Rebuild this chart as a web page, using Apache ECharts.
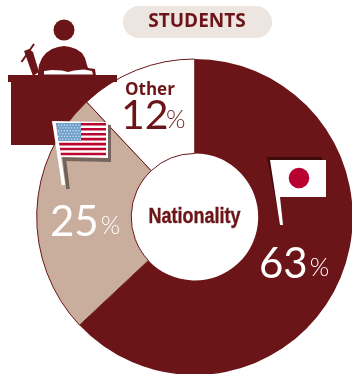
<!DOCTYPE html>
<html><head><meta charset="utf-8">
<style>html,body{margin:0;padding:0;background:#fff}#c{width:352px;height:374px}</style>
<script src="https://cdn.jsdelivr.net/npm/echarts@6/dist/echarts.min.js"></script>
</head><body><div id="c"></div>
<script>
const categories = ['Japan', 'USA', 'Other'];
const values = [63, 25, 12];
const title = 'STUDENTS';
const centerLabel = 'Nationality';

const DARK = '#6c1519', TAN = '#c9ae9e';
const chart = echarts.init(document.getElementById('c'), null, {renderer:'canvas'});
const labelPos = [{x:259,y:264},{x:50,y:222},{x:121,y:107}];
const colors = [DARK, TAN, '#ffffff'];
const numFont = 'Lato';

function usFlag(){
  const els = [];
  els.push({type:'line',shape:{x1:62,y1:140,x2:68,y2:189},style:{stroke:'#6f6058',lineWidth:3.5}});
  els.push({type:'polygon',shape:{points:[[60,125],[111,125],[111,162],[64,161]]},style:{fill:'#75655c'}});
  els.push({type:'polygon',shape:{points:[[52,121],[108,122],[108,158],[60,157]]},style:{fill:'#fff'}});
  els.push({type:'line',shape:{x1:54,y1:122,x2:63.5,y2:185},style:{stroke:'#fff',lineWidth:3.5}});
  for(let i=0;i<7;i++){
    const y=123+i*4.95;
    els.push({type:'polygon',shape:{points:[[56+i*0.75,y],[106,y],[106,y+2.6],[56.4+i*0.75,y+2.6]]},style:{fill:'#b9072f'}});
  }
  els.push({type:'polygon',shape:{points:[[56,123],[81,123],[81,141],[58.5,141]]},style:{fill:'#6f9fca'}});
  for(let r=0;r<6;r++)for(let c=0;c<8;c++){
    els.push({type:'rect',shape:{x:58+c*2.9+(r%2)*1.4,y:124.5+r*2.8,width:1.3,height:1.3},style:{fill:'#cfe0ee'}});
  }
  return els.map((e,i)=>Object.assign(e,{z:20,z2:i}));
}
function jpFlag(){
  return [
    {type:'polygon',shape:{points:[[267,157],[322,157],[322,160],[271,160],[280,213],[278,213]]},style:{fill:'#3d0a0d'}},
    {type:'polygon',shape:{points:[[270,160],[326,160],[326,197],[280,197],[283,225],[280,225]]},style:{fill:'#fff'}},
    {type:'circle',shape:{cx:299,cy:178,r:10.3},style:{fill:'#b80031'}}
  ].map((e,i)=>Object.assign(e,{z:20,z2:i}));
}
function deskIcon(){
  return [
    {type:'circle',shape:{cx:64,cy:30,r:10.5},style:{fill:DARK}},
    {type:'polygon',shape:{points:[[38,72],[39,65],[42,58],[46,53],[52,49],[58,47],[64,46],[70,47],[76,49],[82,53],[85,58],[87,65],[88,68],[95,69],[96,76],[38,76]]},style:{fill:DARK}},
    {type:'polygon',shape:{points:[[44,74.5],[44,71],[52,70],[62,70.5],[68,72],[74,70.5],[84,69.5],[92,71],[93,74.5]]},style:{fill:'#fff'}},
    {type:'line',shape:{x1:21.5,y1:62,x2:34,y2:44},style:{stroke:DARK,lineWidth:2}},
    {type:'polygon',shape:{points:[[24,51],[29,49],[33,52],[39,72],[33,76]]},style:{fill:DARK}},
    {type:'rect',shape:{x:8,y:75,width:109,height:7},style:{fill:DARK}},
    {type:'polygon',shape:{points:[[11,80],[116,80],[100.7,90],[85.5,103],[74,115],[62.7,130],[54,145],[11,145]]},style:{fill:DARK}}
  ].map((e,i)=>Object.assign(e,{z:8,z2:i}));
}
chart.setOption({
  animation:false,
  backgroundColor:'#fff',
  series:[{
    type:'pie',
    center:[194.7,217],
    radius:[63.5,158],
    startAngle:90,
    clockwise:true,
    silent:true,
    z:5,
    avoidLabelOverlap:false,
    emphasis:{disabled:true},
    data:categories.map((n,i)=>({name:n,value:values[i],
      itemStyle:{color:colors[i],borderColor:DARK,borderWidth:i===0?0:1}})),
    labelLine:{show:false},
    label:{show:true,position:'inside',color:'#fff',formatter:p=>{
        const k=p.dataIndex;
        if(k===2) return '{o|Other}\n{nd|'+p.value+'}{pd|%}';
        return '{n|'+p.value+'}{p|%}';
      },
      rich:{
        n:{fontFamily:numFont,fontSize:42,color:'#fff',lineHeight:46},
        p:{fontFamily:numFont,fontWeight:300,fontSize:25,color:'#fff',padding:[8,0,0,2]},
        nd:{fontFamily:numFont,fontSize:41,color:DARK,lineHeight:34,width:45},
        pd:{fontFamily:numFont,fontWeight:300,fontSize:25,color:DARK,padding:[8,0,0,0]},
        o:{fontFamily:'Open Sans',fontWeight:'bold',fontSize:17,color:DARK,lineHeight:18,padding:[0,0,0,4]}
      }
    },
    labelLayout:p=>({x:labelPos[p.dataIndex].x,y:labelPos[p.dataIndex].y,align:'left',verticalAlign:'middle'})
  }],
  graphic:{elements:[
    {type:'rect',z:1,shape:{x:123,y:6,width:149,height:32,r:16},style:{fill:'#ede5df'}},
    {type:'text',z:2,style:{text:title,x:197,y:22,align:'center',verticalAlign:'middle',font:'bold 19px "Open Sans"',fill:DARK}},
    {type:'text',z:8,x:194.5,y:217,scaleX:0.8,style:{text:centerLabel,x:0,y:0,align:'center',verticalAlign:'middle',font:'bold 22.5px "Liberation Sans"',fill:DARK,stroke:DARK,lineWidth:0.4}},
    {type:'group',children:deskIcon()},
    {type:'group',children:usFlag()},
    {type:'group',children:jpFlag()}
  ]}
});
</script></body></html>
